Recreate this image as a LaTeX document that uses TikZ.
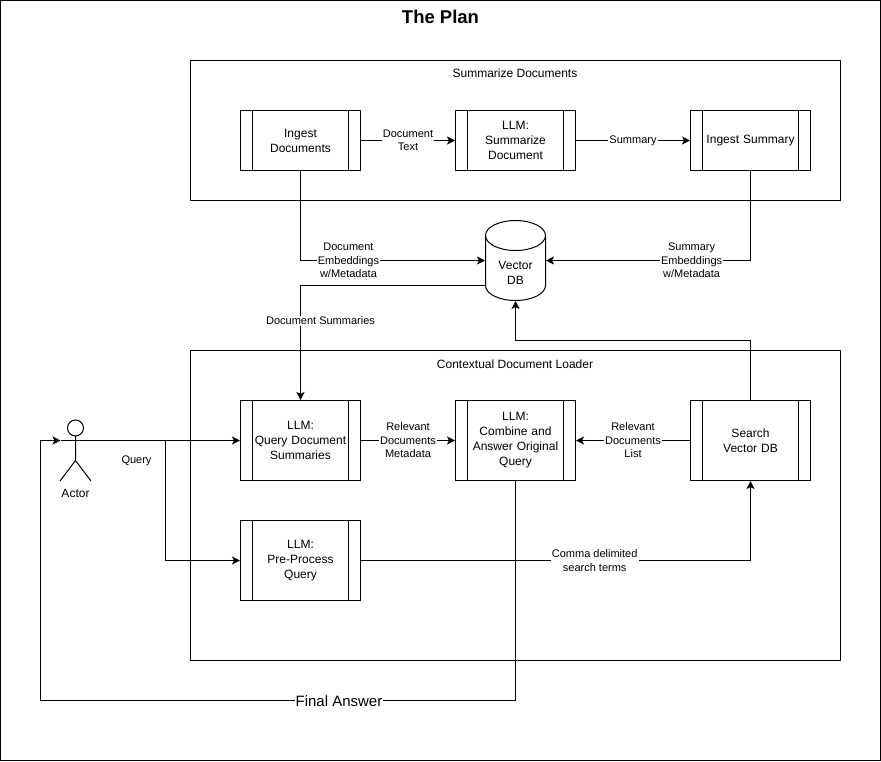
\documentclass[tikz,border=0pt]{standalone}
\usepackage{fontspec}
\setmainfont{Liberation Sans}
\usetikzlibrary{arrows.meta}

\begin{document}
\begin{tikzpicture}[x=1pt, y=-1pt, line width=1pt, >={Stealth[length=8pt, width=8pt, inset=2pt]},
ProcBox/.style={minimum width=120pt, align=center, draw, text width=96pt, inner sep=0pt, font=\fontsize{12}{15}\selectfont,
path picture={\draw ([xshift=12pt]path picture bounding box.north west) -- ([xshift=12pt]path picture bounding box.south west);
\draw ([xshift=-12pt]path picture bounding box.north east) -- ([xshift=-12pt]path picture bounding box.south east);}},
GroupBox/.style={draw, minimum width=650pt, inner sep=0pt},
GroupLabel/.style={font=\fontsize{12}{15}\selectfont, inner sep=0pt},
EdgeLabel/.style={align=center, fill=white, inner sep=1pt, font=\fontsize{11}{13.5}\selectfont}]

\useasboundingbox (0,0) rectangle (881,761);

\node[draw, minimum width=880pt, minimum height=760pt, inner sep=0pt] (frame) at (440.5,380.5) {};
\node[font=\fontsize{18.5}{21}\bfseries, inner sep=0pt] (title) at (440.5,17) {The Plan};

\node[GroupBox, minimum height=140pt] (sumgroup) at (515.5,130.5) {};
\node[GroupLabel] (sumlabel) at (515,73.5) {Summarize Documents};
\node[GroupBox, minimum height=310pt] (ctxgroup) at (515.5,505.5) {};
\node[GroupLabel] (ctxlabel) at (515,364) {Contextual Document Loader};

\node[ProcBox, minimum height=60pt] (ingest) at (300.5,140.5) {Ingest\\Documents};
\node[ProcBox, minimum height=60pt] (summarize) at (515.5,140.5) {LLM:\\Summarize\\Document};
\node[ProcBox, minimum height=60pt] (ingestsum) at (750.5,140.5) {Ingest Summary};

% cylinder
\node[minimum width=60pt, minimum height=80pt, inner sep=0pt] (vdb) at (515.5,260.5) {};
\draw (515.5,235.5) ellipse [x radius=30, y radius=15];
\draw (485.5,235.5) -- (485.5,285.5) arc [start angle=180, end angle=0, x radius=30, y radius=15] -- (545.5,235.5);
\node[align=center, inner sep=0pt, font=\fontsize{12}{15}\selectfont] (vdblabel) at (515.5,273) {Vector\\DB};

\node[ProcBox, minimum height=80pt] (query) at (300.5,440.5) {LLM:\\Query Document\\Summaries};
\node[ProcBox, minimum height=80pt, text width=110pt] (combine) at (515.5,440.5) {LLM:\\Combine and\\Answer Original\\Query};
\node[ProcBox, minimum height=80pt] (search) at (750.5,440.5) {Search\\Vector DB};
\node[ProcBox, minimum height=80pt] (preproc) at (300.5,560.5) {LLM:\\Pre-Process\\Query};

% stick figure
\node[minimum width=30pt, minimum height=60pt, inner sep=0pt] (actor) at (75.5,450.5) {};
\node[GroupLabel] (actorlabel) at (75.5,493.5) {Actor};
\draw (75.5,428) circle (8);
\draw (75.5,436) -- (75.5,460.5) (actor.south west) -- (75.5,460.5) -- (actor.south east);
\draw (60.5,440.5) -- (90.5,440.5);
\coordinate (actorin) at (60.5,440.5);
\coordinate (actorout) at (90.5,440.5);
\coordinate (branch) at (165.5,440.5);

\coordinate (vdbleft) at (485.5,285.5);
\coordinate (vdbtop) at (515.5,340.5);
\coordinate (answerdown) at (515.5,700.5);
\coordinate (answerleft) at (40.5,700.5);
\coordinate (actorup) at (40.5,440.5);

\draw[->] (ingest) -- (summarize) node[EdgeLabel, midway] (doctext) {Document\\Text};
\draw[->] (summarize) -- (ingestsum) node[EdgeLabel, midway] (sumtext) {Summary};
\draw[->] (ingest.south) |- (vdb.west) node[EdgeLabel, pos=0.63] (docembed) {Document\\Embeddings\\w/Metadata};
\draw[->] (ingestsum.south) |- (vdb.east) node[EdgeLabel, pos=0.644] (sumembed) {Summary\\Embeddings\\w/Metadata};
\draw[->] (vdbleft) -| (query.north) node[EdgeLabel, pos=0.654, xshift=20pt] (docsums) {Document Summaries};
\draw[->] (search.north) |- (vdbtop) -- (vdb.south);
\draw[->] (query) -- (combine) node[EdgeLabel, midway] (relmeta) {Relevant\\Documents\\Metadata};
\draw[->] (search) -- (combine) node[EdgeLabel, midway] (rellist) {Relevant\\Documents\\List};
\draw[->] (preproc.east) -| (search.south) node[EdgeLabel, pos=0.30] (terms) {Comma delimited\\search terms};
\draw[->] (actorout) -- (query.west);
\draw[->] (branch) |- (preproc.west);
\node[EdgeLabel, fill=none] (querylabel) at (136.5,461) {Query};
\draw[->] (combine.south) -- (answerdown) -- (answerleft) -- (actorup) -- (actorin);
\node[EdgeLabel, inner sep=0.5pt, font=\fontsize{15}{17}\selectfont] (answerlabel) at (339,701.5) {Final Answer};

\end{tikzpicture}
\end{document}
